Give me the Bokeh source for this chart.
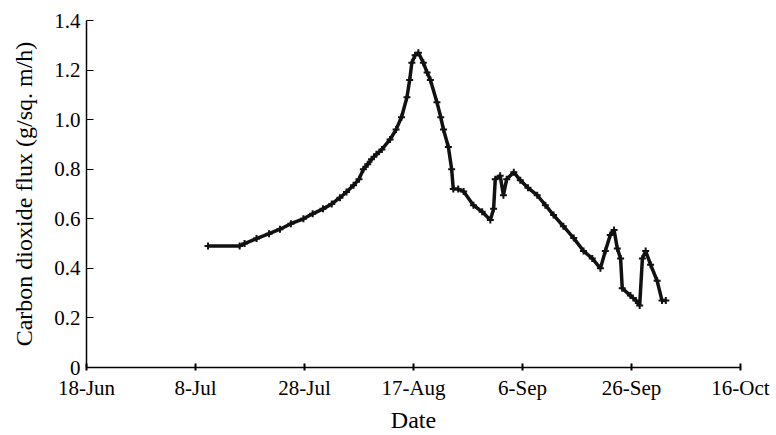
from bokeh.plotting import figure
from bokeh.models import Range1d, FixedTicker, PrintfTickFormatter
from bokeh.embed import file_html
from bokeh.resources import INLINE

# Days counted from 18-Jun
days = [22.3, 28.1, 29.0, 31.2, 33.5, 35.5, 37.5, 39.8, 41.5, 43.4, 45.0, 46.5,
        47.7, 49.0, 50.0, 50.8, 51.6, 52.3, 53.2, 54.2, 55.7, 56.8, 57.8, 58.8,
        59.3, 59.7, 60.3, 60.9, 61.8, 62.5, 63.1, 64.3, 65.0, 65.5, 66.4, 67.0,
        67.3, 68.2, 69.2, 71.0, 72.6, 74.1, 74.7, 75.0, 75.9, 76.5, 77.1, 78.4,
        79.6, 81.0, 82.7, 84.2, 85.7, 87.5, 89.4, 91.2, 92.8, 94.3, 95.2, 96.1,
        96.8, 97.4, 98.0, 98.3, 99.8, 100.8, 101.5, 102.0, 102.6, 103.5, 104.7,
        105.6, 106.3]
flux = [0.49, 0.49, 0.50, 0.52, 0.54, 0.558, 0.58, 0.60, 0.62, 0.64, 0.66, 0.685,
        0.708, 0.735, 0.76, 0.80, 0.82, 0.84, 0.86, 0.88, 0.92, 0.96, 1.01, 1.09,
        1.16, 1.23, 1.26, 1.27, 1.23, 1.19, 1.16, 1.07, 1.01, 0.96, 0.89, 0.80,
        0.72, 0.72, 0.71, 0.655, 0.628, 0.595, 0.64, 0.76, 0.774, 0.695, 0.76, 0.788,
        0.755, 0.725, 0.695, 0.655, 0.615, 0.57, 0.522, 0.47, 0.44, 0.40, 0.47, 0.535,
        0.555, 0.48, 0.44, 0.32, 0.29, 0.27, 0.25, 0.44, 0.47, 0.415, 0.35,
        0.27, 0.27]

tick_days = [0, 20, 40, 60, 80, 100, 120]
tick_labels = ["18-Jun", "8-Jul", "28-Jul", "17-Aug", "6-Sep", "26-Sep", "16-Oct"]
y_ticks = [0, 0.2, 0.4, 0.6, 0.8, 1.0, 1.2, 1.4]

FONT = "serif"

p = figure(width=776, height=435, output_backend="svg", toolbar_location=None,
           x_range=Range1d(0, 120), y_range=Range1d(0, 1.4),
           min_border_left=86, min_border_right=36, min_border_top=20,
           min_border_bottom=64)
p.outline_line_color = None
p.xgrid.visible = False
p.ygrid.visible = False
p.background_fill_color = "white"
p.border_fill_color = "white"

p.line(days, flux, line_color="#111111", line_width=3.5)
p.scatter(days, flux, marker="cross", size=7, line_color="#111111", line_width=2)

xa = p.xaxis[0]
xa.ticker = FixedTicker(ticks=tick_days)
xa.major_label_overrides = {d: l for d, l in zip(tick_days, tick_labels)}
xa.minor_tick_line_color = None
xa.major_tick_in = 4
xa.major_tick_out = 3
xa.major_tick_line_width = 2
xa.axis_line_width = 1.5
xa.axis_label = "Date"
xa.axis_label_text_font = FONT
xa.axis_label_text_font_style = "normal"
xa.axis_label_text_font_size = "24px"
xa.axis_label_standoff = 4
xa.major_label_text_font = FONT
xa.major_label_text_font_size = "21px"
xa.major_label_standoff = 5

ya = p.yaxis[0]
ya.ticker = FixedTicker(ticks=y_ticks)
ya.formatter = PrintfTickFormatter(format="%.1f")
ya.major_label_overrides = {0: "0"}
ya.minor_tick_line_color = None
ya.major_tick_in = 7
ya.major_tick_out = 0
ya.axis_line_width = 1.5
ya.axis_label = "Carbon dioxide flux (g/sq. m/h)"
ya.axis_label_text_font = FONT
ya.axis_label_text_font_style = "normal"
ya.axis_label_text_font_size = "24px"
ya.axis_label_standoff = 14
ya.major_label_text_font = FONT
ya.major_label_text_font_size = "21px"
ya.major_label_standoff = 6

for ax in (xa, ya):
    ax.axis_line_color = "black"
    ax.major_tick_line_color = "black"
    ax.major_label_text_color = "black"
    ax.axis_label_text_color = "black"

open("out.html", "w").write(file_html(p, INLINE))
